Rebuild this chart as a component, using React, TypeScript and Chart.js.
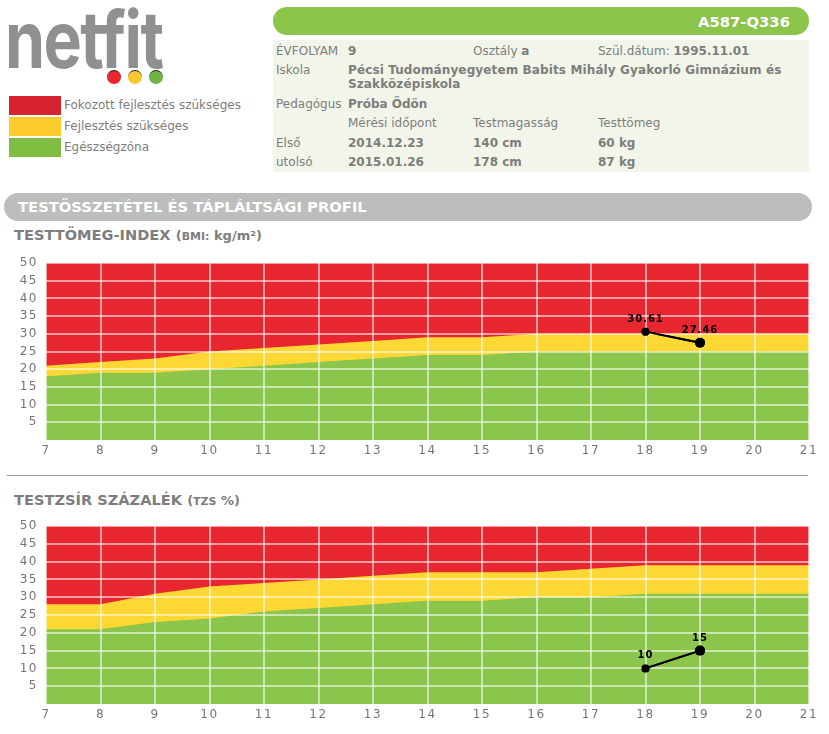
import React, { useEffect, useRef } from "react";
import { Chart, registerables } from "chart.js";

Chart.register(...registerables);

const ages = [7, 8, 9, 10, 11, 12, 13, 14, 15, 16, 17, 18, 19, 20, 21];
const yTicks = [5, 10, 15, 20, 25, 30, 35, 40, 45, 50];

const bmiTop = [50, 50, 50, 50, 50, 50, 50, 50, 50, 50, 50, 50, 50, 50, 50];
const bmiYellow = [21, 22, 23, 25, 26, 27, 28, 29, 29, 30, 30, 30, 30, 30, 30];
const bmiGreen = [18, 19, 19, 20, 21, 22, 23, 24, 24, 25, 25, 25, 25, 25, 25];
const bmiMeasuredAges = [18, 19];
const bmiMeasured = [30.61, 27.46];
const bmiLabels = ["30.61", "27.46"];

const fatTop = [50, 50, 50, 50, 50, 50, 50, 50, 50, 50, 50, 50, 50, 50, 50];
const fatYellow = [28, 28, 31, 33, 34, 35, 36, 37, 37, 37, 38, 39, 39, 39, 39];
const fatGreen = [21, 21, 23, 24, 26, 27, 28, 29, 29, 30, 30, 31, 31, 31, 31];
const fatMeasuredAges = [18, 19];
const fatMeasured = [10, 15];
const fatLabels = ["10", "15"];

const legendLabels = ["Fokozott fejlesztés szükséges", "Fejlesztés szükséges", "Egészségzóna"];

const RED = "#e8262f";
const YELLOW = "#fdd835";
const GREEN = "#8bc54b";
const FONT = "'DejaVu Sans', sans-serif";
const GREY = "#7d7d7d";

function Zones(props: {
  top: number; height: number; red: number[]; yellow: number[]; green: number[];
  mx: number[]; my: number[]; labels: string[];
}) {
  const ref = useRef<HTMLCanvasElement>(null);
  useEffect(() => {
    const area = (data: number[], color: string) => ({
      type: "line" as const,
      data: ages.map((x, i) => ({ x, y: data[i] })),
      borderWidth: 0,
      borderColor: color,
      backgroundColor: color,
      pointRadius: 0,
      fill: "origin",
      tension: 0,
    });
    const chart = new Chart(ref.current!, {
      type: "line",
      data: {
        datasets: [
          {
            data: props.mx.map((x, i) => ({ x, y: props.my[i] })),
            borderColor: "#000",
            backgroundColor: "#000",
            borderWidth: 2,
            pointRadius: [4, 5],
            pointBackgroundColor: "#000",
            pointBorderWidth: 0,
            fill: false,
            tension: 0,
          },
          area(props.green, GREEN),
          area(props.yellow, YELLOW),
          area(props.red, RED),
        ] as any,
      },
      options: {
        animation: false,
        responsive: false,
        events: [],
        layout: { padding: { top: 13, right: 20, left: 0, bottom: 0 } },
        plugins: { legend: { display: false }, tooltip: { enabled: false } },
        scales: {
          x: {
            type: "linear",
            min: 7,
            max: 21,
            afterFit: (s: any) => { s.height = 25; s.paddingRight = 0; s.paddingLeft = 0; },
            afterBuildTicks: (s: any) => { s.ticks = ages.map((value) => ({ value })); },
            grid: { color: "rgba(255,255,255,0.55)", lineWidth: 2, z: 1, tickLength: 0, drawTicks: false },
            border: { display: false },
            ticks: { color: "#767676", font: { family: FONT, size: 12 }, maxRotation: 0, autoSkip: false, padding: 4 },
          },
          y: {
            min: 0,
            max: 50,
            afterFit: (s: any) => { s.width = 46; s.paddingTop = 0; s.paddingBottom = 0; },
            afterBuildTicks: (s: any) => { s.ticks = yTicks.map((value) => ({ value })); },
            grid: { color: "rgba(255,255,255,0.55)", lineWidth: 2, z: 1, tickLength: 0, drawTicks: false },
            border: { display: false },
            ticks: { color: "#767676", font: { family: FONT, size: 12 }, padding: 8 },
          },
        },
      },
      plugins: [
        {
          id: "spacing",
          beforeDraw: (c: any) => { c.ctx.letterSpacing = "1.5px"; },
        },
        {
          id: "marks",
          afterDraw: (c: any) => {
            const meta = c.getDatasetMeta(0);
            meta.controller.draw();
            const ctx = c.ctx;
            ctx.save();
            ctx.letterSpacing = "1px";
            ctx.font = `bold 10px ${FONT}`;
            ctx.fillStyle = "#000";
            ctx.textAlign = "center";
            ctx.textBaseline = "middle";
            meta.data.forEach((pt: any, i: number) => {
              ctx.fillText(props.labels[i], pt.x, pt.y - 12.5);
            });
            ctx.restore();
          },
        },
      ] as any,
    });
    return () => chart.destroy();
  }, []);
  return (
    <canvas
      ref={ref}
      width={829}
      height={props.height}
      style={{ position: "absolute", left: 0, top: props.top, width: 829, height: props.height }}
    />
  );
}

function T(props: { x: number; y: number; b?: boolean; size?: number; color?: string; ls?: number; children: React.ReactNode }) {
  return (
    <div
      style={{
        position: "absolute",
        left: props.x,
        top: props.y - 7,
        height: 16,
        lineHeight: "16px",
        whiteSpace: "nowrap",
        fontWeight: props.b ? 700 : 400,
        fontSize: props.size ?? 12,
        letterSpacing: props.ls ?? 0,
        color: props.color ?? GREY,
      }}
    >
      {props.children}
    </div>
  );
}

function Box(props: { x: number; y: number; w: number; h: number; bg: string; r?: number }) {
  return (
    <div
      style={{
        position: "absolute",
        left: props.x,
        top: props.y,
        width: props.w,
        height: props.h,
        background: props.bg,
        borderRadius: props.r ?? 0,
      }}
    />
  );
}

function Dot(props: { x: number; color: string }) {
  return (
    <div
      style={{
        position: "absolute",
        left: props.x - 7,
        top: 70,
        width: 14,
        height: 14,
        borderRadius: 7,
        background: props.color,
        borderTop: "1px solid #222",
        boxSizing: "border-box",
      }}
    />
  );
}

export default function App() {
  useEffect(() => {
    document.body.style.margin = "0";
    document.body.style.background = "#fff";
  }, []);
  const swatches = ["#d7232f", "#fecb2f", "#80bd43"];
  return (
    <div style={{ position: "absolute", left: 0, top: 0, width: 829, height: 734, overflow: "hidden", fontFamily: FONT }}>
      <div
        style={{
          position: "absolute",
          left: 5,
          top: -4,
          fontFamily: "Inter, 'Open Sans', sans-serif",
          fontWeight: 700,
          fontSize: 79,
          lineHeight: "86px",
          letterSpacing: -2,
          color: "#8f9091",
          transformOrigin: "0 0",
          transform: "scaleX(0.815)",
        }}
      >
        netfit
      </div>
      <Dot x={114} color="#e8262f" />
      <Dot x={135} color="#fdc82f" />
      <Dot x={156} color="#6fb544" />

      {legendLabels.map((l, i) => (
        <React.Fragment key={l}>
          <Box x={9} y={96 + i * 21} w={52} h={19} bg={swatches[i]} />
          <T x={64} y={104 + i * 21}>{l}</T>
        </React.Fragment>
      ))}

      <Box x={273} y={7} w={536} h={28} r={14} bg={GREEN} />
      <T x={698} y={21} b size={14.8} color="#fff">A587-Q336</T>
      <Box x={273} y={40} w={536} h={132} bg="#f2f5ea" />

      <T x={276} y={50}>ÉVFOLYAM</T>
      <T x={348} y={50} b>9</T>
      <T x={473} y={50}>Osztály <b>a</b></T>
      <T x={598} y={50}>Szül.dátum: <b>1995.11.01</b></T>
      <T x={276} y={69}>Iskola</T>
      <T x={348} y={69} b ls={0.12}>Pécsi Tudományegyetem Babits Mihály Gyakorló Gimnázium és</T>
      <T x={348} y={83} b ls={0.12}>Szakközépiskola</T>
      <T x={276} y={103}>Pedagógus</T>
      <T x={348} y={103} b>Próba Ödön</T>
      <T x={348} y={122}>Mérési időpont</T>
      <T x={473} y={122}>Testmagasság</T>
      <T x={598} y={122}>Testtömeg</T>
      <T x={276} y={142}>Első</T>
      <T x={348} y={142} b>2014.12.23</T>
      <T x={473} y={142} b>140 cm</T>
      <T x={598} y={142} b>60 kg</T>
      <T x={276} y={161}>utolsó</T>
      <T x={348} y={161} b>2015.01.26</T>
      <T x={473} y={161} b>178 cm</T>
      <T x={598} y={161} b>87 kg</T>

      <Box x={4} y={193} w={808} h={28} r={14} bg="#bdbdbd" />
      <T x={18} y={206} b size={14.75} color="#fff">TESTÖSSZETÉTEL ÉS TÁPLÁLTSÁGI PROFIL</T>

      <T x={14} y={234} b size={14.6}>TESTTÖMEG-INDEX <span style={{ fontSize: 13 }}>(<span style={{ fontSize: 11 }}>BMI:</span> kg/m²)</span></T>
      <Zones top={250} height={215} red={bmiTop} yellow={bmiYellow} green={bmiGreen} mx={bmiMeasuredAges} my={bmiMeasured} labels={bmiLabels} />

      <Box x={7} y={475} w={801} h={1} bg="#9a9a9a" />

      <T x={14} y={499} b size={14.6}>TESTZSÍR SZÁZALÉK <span style={{ fontSize: 13 }}>(<span style={{ fontSize: 11 }}>TZS</span> %)</span></T>
      <Zones top={513} height={216} red={fatTop} yellow={fatYellow} green={fatGreen} mx={fatMeasuredAges} my={fatMeasured} labels={fatLabels} />
    </div>
  );
}
